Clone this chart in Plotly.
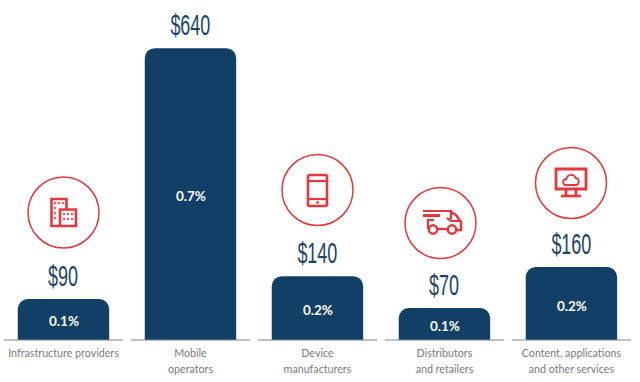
import plotly.graph_objects as go

categories = ["Infrastructure providers", "Mobile<br>operators", "Device<br>manufacturers",
              "Distributors<br>and retailers", "Content, applications<br>and other services"]
values = [90, 640, 140, 70, 160]
value_labels = ["$90", "$640", "$140", "$70", "$160"]
share_labels = ["0.1%", "0.7%", "0.2%", "0.1%", "0.2%"]

NAVY = "#123f66"
RED = "#e4383c"
W, H, PLOT_H = 640, 382, 340
xs = list(range(len(categories)))

fig = go.Figure(go.Bar(
    x=xs, y=values, width=0.72, marker=dict(color=NAVY, cornerradius=10, line_width=0),
    text=share_labels, textposition="inside", insidetextanchor="middle", textangle=0,
    constraintext="none", cliponaxis=False,
    textfont=dict(family="Lato", size=13.5, color="white", weight="bold"),
    hoverinfo="skip"))


def X(p):
    return p / W


def Y(p):
    return 1 - p / PLOT_H


def path(points, close=False):
    d = "M" + " L".join(f"{X(a):.5f},{Y(b):.5f}" for a, b in points)
    return d + (" Z" if close else "")


shapes = []


def stroke(points, close=False, w=2.2):
    shapes.append(dict(type="path", xref="paper", yref="paper", path=path(points, close),
                       line=dict(color=RED, width=w), layer="above"))


def rect(x0, y0, x1, y1, w=2.2, fill=False):
    shapes.append(dict(type="rect", xref="paper", yref="paper", x0=X(x0), x1=X(x1), y0=Y(y0), y1=Y(y1),
                       line=dict(color=RED, width=w), fillcolor=RED if fill else "rgba(0,0,0,0)"))


def circle(cx, cy, r, w=1.5, fill=None):
    shapes.append(dict(type="circle", xref="paper", yref="paper", x0=X(cx - r), x1=X(cx + r),
                       y0=Y(cy - r), y1=Y(cy + r), line=dict(color=RED, width=w),
                       fillcolor=fill or "rgba(0,0,0,0)"))


def curve(start, segments, w=1.8):
    d = f"M{X(start[0]):.5f},{Y(start[1]):.5f}"
    for seg in segments:
        d += " C" + " ".join(f"{X(a):.5f},{Y(b):.5f}" for a, b in seg)
    shapes.append(dict(type="path", xref="paper", yref="paper", path=d + " Z",
                       line=dict(color=RED, width=w), layer="above"))


# baseline segments under each bar
for i in xs:
    shapes.append(dict(type="line", xref="x", yref="paper", x0=i - 0.47, x1=i + 0.47, y0=0, y1=0,
                       line=dict(color="#7f8488", width=1.2)))

# icon rings
for c in [(63.5, 212.5), (317.5, 190), (440.5, 223), (571, 183)]:
    circle(c[0], c[1], 35.5, fill="white")

# buildings icon
stroke([(60, 226), (51.5, 226), (51.5, 199), (66.5, 199), (66.5, 209)], w=2.6)
stroke([(60, 226), (60, 209.5), (76, 209.5), (76, 226), (60, 226)], w=2.6)
for a, b in [(55, 203), (59, 203), (63, 203), (55, 208), (55, 213), (55, 218),
             (64, 214), (68, 214), (72, 214), (64, 219), (68, 219), (72, 219)]:
    rect(a - 0.8, b - 0.8, a + 0.8, b + 0.8, w=0.5, fill=True)

# phone icon
stroke([(309, 175), (326, 175), (327, 176), (327, 205), (326, 206), (309, 206), (308, 205), (308, 176)], True, 2.6)
stroke([(308, 181), (327, 181)], w=2.2)
stroke([(308, 199), (327, 199)], w=2.2)
rect(316.5, 201.5, 318.5, 203.5, w=0.5, fill=True)

# truck icon
stroke([(423, 211), (451, 211), (451, 219)], w=2.2)
stroke([(423, 215.5), (440, 215.5)], w=3)
stroke([(427, 220), (434, 220)], w=2.2)
stroke([(428, 220), (428, 229)], w=2.2)
stroke([(438, 229), (447, 229)], w=2.4)
stroke([(451, 212), (456, 215), (461, 222), (461, 230), (457, 230)], w=2.4)
stroke([(447, 218), (451, 221), (460, 221)], w=2.2)
circle(433, 229.5, 4.2, w=2.4)
circle(452, 229.5, 4.2, w=2.4)

# monitor icon
rect(556, 169, 586, 189, w=2.8)
rect(565, 190, 567, 196, w=0.8, fill=True)
rect(575, 190, 577, 196, w=0.8, fill=True)
stroke([(561, 196), (581, 196)], w=2.6)
curve((566, 185), [[(562, 185), (562, 179), (566.5, 179)],
                   [(567, 174), (574.5, 173.5), (575.5, 178)],
                   [(579.5, 177.5), (580, 185), (576, 185)]])

annotations = [dict(x=i, y=v, xref="x", yref="y", text=t, showarrow=False, yanchor="bottom", yshift=5,
                    font=dict(family="Liberation Sans", size=30, color="#1d4468"))
               for i, v, t in zip(xs, values, value_labels)]

fig.update_layout(
    width=W, height=H, margin=dict(l=0, r=0, t=0, b=H - PLOT_H),
    paper_bgcolor="white", plot_bgcolor="white", showlegend=False,
    shapes=shapes, annotations=annotations,
    xaxis=dict(range=[-0.5, 4.54], tickmode="array", tickvals=xs, ticktext=categories,
               showgrid=False, zeroline=False, showline=False, ticks="", ticklen=0,
               ticklabelstandoff=5,
               tickfont=dict(family="Lato", size=10.7, color="#777b7e"), tickangle=0, automargin=False),
    yaxis=dict(range=[0, 745.6], visible=False),
)

# Remove the page margin; condense the big value labels, since no condensed font is installed;
# open up the two-line category labels and nudge the share labels down to the reference position.
post = """
document.body.style.margin = '0';
document.querySelectorAll('.annotation-text').forEach(function (t) {
  var n = t.getComputedTextLength();
  t.setAttribute('lengthAdjust', 'spacingAndGlyphs');
  t.setAttribute('textLength', (n * 0.6).toFixed(1));
});
document.querySelectorAll('.xtick tspan.line').forEach(function (t, i) {
  var dy = parseFloat(t.getAttribute('dy') || '0');
  if (dy > 0) { t.setAttribute('dy', '16px'); }
});
document.querySelectorAll('.bartext').forEach(function (t) {
  t.setAttribute('transform', 'translate(0.5,2) ' + (t.getAttribute('transform') || ''));
});
"""
fig.write_html("out.html", config=dict(displayModeBar=False), post_script=post)
